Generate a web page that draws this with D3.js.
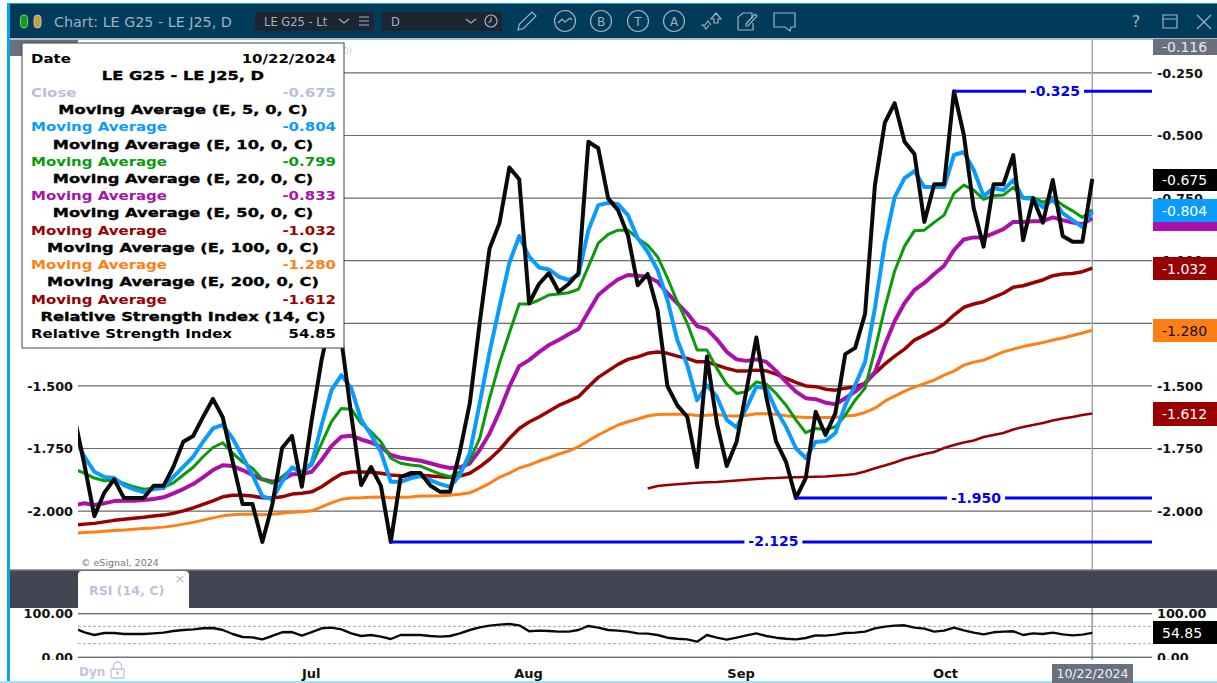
<!DOCTYPE html>
<html><head><meta charset="utf-8"><title>LE G25 - LE J25, D</title>
<script src="https://cdn.jsdelivr.net/npm/d3@7"></script>
<style>html,body{margin:0;padding:0;background:#fff;overflow:hidden}svg{display:block}text{font-family:"DejaVu Sans",sans-serif}</style>
</head><body><svg id="c" width="1217" height="683"></svg>
<script>
const close = [-1.63,-1.818,-2.022,-1.929,-1.875,-1.95,-1.95,-1.95,-1.901,-1.901,-1.825,-1.725,-1.702,-1.626,-1.554,-1.628,-1.805,-1.974,-1.974,-2.125,-1.978,-1.75,-1.702,-1.905,-1.638,-1.398,-1.218,-1.318,-1.618,-1.898,-1.826,-1.901,-2.125,-1.866,-1.85,-1.85,-1.9,-1.925,-1.925,-1.763,-1.571,-1.25,-0.953,-0.852,-0.63,-0.677,-1.172,-1.095,-1.052,-1.126,-1.095,-1.052,-0.527,-0.553,-0.753,-0.8,-0.9,-1.1,-1.055,-1.2,-1.503,-1.58,-1.625,-1.826,-1.385,-1.65,-1.822,-1.725,-1.519,-1.309,-1.545,-1.725,-1.805,-1.95,-1.87,-1.605,-1.698,-1.611,-1.375,-1.35,-1.215,-0.7,-0.451,-0.373,-0.527,-0.576,-0.847,-0.697,-0.697,-0.325,-0.5,-0.793,-0.946,-0.697,-0.697,-0.58,-0.92,-0.753,-0.85,-0.68,-0.903,-0.926,-0.926,-0.675];
const ema5 = [-1.71,-1.785,-1.845,-1.866,-1.87,-1.898,-1.915,-1.926,-1.914,-1.91,-1.865,-1.825,-1.785,-1.725,-1.672,-1.658,-1.712,-1.785,-1.858,-1.942,-1.955,-1.885,-1.827,-1.85,-1.81,-1.658,-1.519,-1.459,-1.511,-1.638,-1.698,-1.765,-1.885,-1.885,-1.871,-1.862,-1.878,-1.894,-1.905,-1.858,-1.77,-1.572,-1.367,-1.186,-1.011,-0.904,-0.986,-1.029,-1.037,-1.066,-1.079,-1.059,-0.88,-0.78,-0.771,-0.776,-0.82,-0.913,-0.966,-1.039,-1.159,-1.319,-1.419,-1.559,-1.499,-1.545,-1.638,-1.668,-1.59,-1.505,-1.511,-1.599,-1.665,-1.751,-1.79,-1.726,-1.722,-1.69,-1.579,-1.499,-1.407,-1.191,-0.932,-0.748,-0.672,-0.644,-0.708,-0.708,-0.708,-0.58,-0.568,-0.64,-0.744,-0.712,-0.72,-0.68,-0.752,-0.756,-0.788,-0.756,-0.812,-0.84,-0.868,-0.804];
const ema10 = [-1.835,-1.85,-1.87,-1.881,-1.878,-1.891,-1.905,-1.915,-1.911,-1.907,-1.889,-1.858,-1.827,-1.785,-1.748,-1.729,-1.771,-1.805,-1.831,-1.875,-1.891,-1.865,-1.831,-1.845,-1.818,-1.732,-1.645,-1.592,-1.595,-1.652,-1.685,-1.725,-1.791,-1.811,-1.818,-1.822,-1.838,-1.854,-1.865,-1.845,-1.798,-1.712,-1.551,-1.411,-1.291,-1.175,-1.175,-1.159,-1.139,-1.135,-1.13,-1.116,-1.026,-0.932,-0.897,-0.88,-0.88,-0.913,-0.94,-0.986,-1.071,-1.166,-1.251,-1.359,-1.359,-1.432,-1.495,-1.532,-1.525,-1.486,-1.495,-1.532,-1.579,-1.638,-1.689,-1.672,-1.676,-1.665,-1.619,-1.559,-1.511,-1.359,-1.191,-1.043,-0.944,-0.882,-0.88,-0.849,-0.82,-0.733,-0.7,-0.72,-0.757,-0.743,-0.74,-0.709,-0.751,-0.749,-0.769,-0.749,-0.78,-0.803,-0.829,-0.799];
const ema20 = [-1.978,-1.971,-1.978,-1.971,-1.962,-1.961,-1.961,-1.958,-1.954,-1.947,-1.931,-1.914,-1.894,-1.867,-1.838,-1.819,-1.822,-1.838,-1.858,-1.875,-1.885,-1.878,-1.855,-1.854,-1.845,-1.798,-1.742,-1.705,-1.701,-1.716,-1.728,-1.745,-1.778,-1.789,-1.795,-1.801,-1.811,-1.822,-1.83,-1.827,-1.811,-1.758,-1.692,-1.605,-1.505,-1.423,-1.399,-1.367,-1.339,-1.319,-1.296,-1.275,-1.206,-1.139,-1.106,-1.077,-1.059,-1.062,-1.066,-1.086,-1.132,-1.172,-1.212,-1.263,-1.275,-1.316,-1.366,-1.396,-1.402,-1.396,-1.406,-1.442,-1.486,-1.525,-1.551,-1.555,-1.569,-1.575,-1.551,-1.525,-1.491,-1.447,-1.339,-1.243,-1.171,-1.119,-1.091,-1.055,-1.022,-0.96,-0.917,-0.909,-0.909,-0.893,-0.876,-0.847,-0.847,-0.844,-0.844,-0.829,-0.84,-0.85,-0.856,-0.833];
const ema50 = [-2.058,-2.054,-2.051,-2.045,-2.039,-2.035,-2.031,-2.027,-2.022,-2.018,-2.011,-2.001,-1.989,-1.975,-1.961,-1.945,-1.939,-1.939,-1.942,-1.949,-1.95,-1.945,-1.934,-1.931,-1.925,-1.905,-1.878,-1.854,-1.846,-1.846,-1.847,-1.851,-1.858,-1.861,-1.861,-1.859,-1.862,-1.865,-1.867,-1.862,-1.851,-1.825,-1.795,-1.758,-1.712,-1.672,-1.646,-1.626,-1.603,-1.58,-1.563,-1.545,-1.505,-1.468,-1.442,-1.416,-1.396,-1.386,-1.372,-1.367,-1.372,-1.383,-1.392,-1.406,-1.406,-1.419,-1.432,-1.442,-1.442,-1.439,-1.442,-1.455,-1.472,-1.488,-1.502,-1.505,-1.515,-1.519,-1.511,-1.505,-1.492,-1.451,-1.415,-1.383,-1.355,-1.319,-1.299,-1.279,-1.255,-1.219,-1.188,-1.175,-1.166,-1.148,-1.132,-1.108,-1.102,-1.09,-1.079,-1.062,-1.055,-1.053,-1.046,-1.032];
const ema100 = [-2.091,-2.087,-2.085,-2.082,-2.079,-2.077,-2.074,-2.071,-2.069,-2.066,-2.061,-2.054,-2.047,-2.038,-2.029,-2.021,-2.017,-2.015,-2.015,-2.017,-2.015,-2.011,-2.007,-2.005,-2.001,-1.985,-1.969,-1.955,-1.95,-1.949,-1.947,-1.946,-1.949,-1.947,-1.946,-1.942,-1.942,-1.941,-1.939,-1.935,-1.929,-1.911,-1.891,-1.867,-1.85,-1.83,-1.818,-1.802,-1.789,-1.774,-1.762,-1.745,-1.721,-1.698,-1.678,-1.658,-1.645,-1.634,-1.622,-1.616,-1.615,-1.615,-1.615,-1.62,-1.619,-1.616,-1.621,-1.622,-1.619,-1.613,-1.613,-1.615,-1.621,-1.625,-1.628,-1.628,-1.628,-1.628,-1.622,-1.619,-1.608,-1.591,-1.563,-1.543,-1.523,-1.507,-1.493,-1.479,-1.459,-1.443,-1.419,-1.407,-1.399,-1.383,-1.366,-1.355,-1.345,-1.337,-1.329,-1.319,-1.311,-1.301,-1.291,-1.28];
const ema200Start = 58;
const ema200 = [-1.912,-1.902,-1.898,-1.895,-1.892,-1.889,-1.887,-1.886,-1.883,-1.88,-1.877,-1.874,-1.871,-1.87,-1.868,-1.867,-1.866,-1.865,-1.864,-1.861,-1.858,-1.854,-1.844,-1.831,-1.82,-1.808,-1.794,-1.784,-1.774,-1.766,-1.75,-1.738,-1.728,-1.72,-1.706,-1.698,-1.69,-1.676,-1.666,-1.658,-1.65,-1.64,-1.632,-1.626,-1.618,-1.612];
const rsi = [65.4,56.2,50,54.6,54.6,52.3,52.3,52.3,53.8,55.4,59.2,61.5,63,65.4,66.2,61.5,52.3,45.4,44.6,40,47.7,56.2,56.9,48.5,56.9,65.4,66.9,63,53.8,47.7,50,46.2,40.8,50,50,50,47.7,46.2,47.7,53.8,61.5,67.7,71.5,73.8,75.4,72.3,58.5,60,59.2,57.7,57.7,61.5,70.8,66.9,61.5,60,57.7,53.8,53.1,50,43.8,41.5,40,34.6,50,43.8,39.2,43.8,49.2,53.8,47.7,43.8,41.5,40,43.1,49.2,48.5,50.8,54.6,55.4,57.7,65.4,69.2,71.5,72.3,66.9,64.6,57.7,60,66.9,60.8,55.4,51.5,56.2,57.7,58.5,50,53.8,52.3,55.4,51.5,49.2,50.8,54.85];
const priceTicks = [-0.25,-0.5,-0.75,-1,-1.25,-1.5,-1.75,-2];
const leftPriceTicks = [-1.5,-1.75,-2];
const rsiTicks = [0,100];
const rsiBands = [70,30];
const monthNames = ["Jul","Aug","Sep","Oct"];
const monthBars = [23.9,45.9,67.4,88.1];
const levelValues = [-2.125,-1.95,-0.325];
const levelStartBars = [32,73,89];
const legendRows = [
 ["Date","10/22/2024","#000"],
 ["LE G25 - LE J25, D",null,"#000"],
 ["Close","-0.675","#b9bfd6"],
 ["Moving Average (E, 5, 0, C)",null,"#000"],
 ["Moving Average","-0.804","#0a9bff"],
 ["Moving Average (E, 10, 0, C)",null,"#000"],
 ["Moving Average","-0.799","#0a9a0a"],
 ["Moving Average (E, 20, 0, C)",null,"#000"],
 ["Moving Average","-0.833","#ab10ab"],
 ["Moving Average (E, 50, 0, C)",null,"#000"],
 ["Moving Average","-1.032","#990000"],
 ["Moving Average (E, 100, 0, C)",null,"#000"],
 ["Moving Average","-1.280","#ff7f14"],
 ["Moving Average (E, 200, 0, C)",null,"#000"],
 ["Moving Average","-1.612","#990000"],
 ["Relative Strength Index (14, C)",null,"#000"],
 ["Relative Strength Index","54.85","#000"]
];

const fmt3 = d => d.toFixed(3), fmt2 = d => d.toFixed(2);
const svg = d3.select("#c");
const x = d3.scaleLinear().domain([0,103]).range([74.6,1092.3]);
const y = d3.scaleLinear().domain([-0.25,-2]).range([72.4,510.6]);
const yr = d3.scaleLinear().domain([100,0]).range([613.3,656.7]);
const L = 78, R = 1152;
const defs = svg.append("defs");
defs.append("clipPath").attr("id","plot").append("rect").attr("x",L).attr("y",39).attr("width",1018).attr("height",531);
defs.append("clipPath").attr("id","plotR").append("rect").attr("x",L).attr("y",608).attr("width",1018).attr("height",52);

// window frame
svg.append("rect").attr("x",7).attr("y",3).attr("width",1210).attr("height",678).attr("fill","#0aa5e8");
svg.append("rect").attr("x",10).attr("y",39).attr("width",1207).attr("height",642).attr("fill","#fff");
svg.append("rect").attr("x",10).attr("y",4).attr("width",1207).attr("height",35).attr("fill","#003c5a");
svg.append("rect").attr("x",10).attr("y",38).attr("width",1207).attr("height",2).attr("fill","#b8bcc2");
svg.append("rect").attr("x",10).attr("y",40).attr("width",68).attr("height",16).attr("fill","#6b7080");
svg.append("rect").attr("x",0).attr("y",681).attr("width",1217).attr("height",2).attr("fill","#a5e2f8");

const styleAxis = g => {
 g.select(".domain").remove();
 g.selectAll("text").attr("font-size",12.8).attr("font-weight","bold").attr("fill","#111").attr("font-family","DejaVu Sans").attr("dy","0.36em");
};

// price grid + axes
const gridG = svg.append("g").attr("transform",`translate(${L},0)`)
 .call(d3.axisRight(y).tickValues(priceTicks).tickSize(R-L).tickPadding(5).tickFormat(fmt3));
styleAxis(gridG);
gridG.selectAll("line").attr("stroke","#6a6a6a").attr("stroke-width",1.2);
const leftG = svg.append("g").attr("transform",`translate(${L},0)`)
 .call(d3.axisLeft(y).tickValues(leftPriceTicks).tickSize(0).tickPadding(5).tickFormat(fmt3));
styleAxis(leftG);

// crosshair
svg.append("line").attr("x1",x(103)).attr("x2",x(103)).attr("y1",39).attr("y2",660).attr("stroke","#a3a6ad").attr("stroke-width",1.5);

// lines
const plot = svg.append("g").attr("clip-path","url(#plot)");
const draw = (vals,col,w,offs=0)=>plot.append("path")
 .attr("d",d3.line().x((d,i)=>x(i+offs)).y(d=>y(d))(vals))
 .attr("fill","none").attr("stroke",col).attr("stroke-width",w).attr("stroke-linejoin","round");
draw(ema200,"#990000",2.6,ema200Start);
draw(ema100,"#ff7f14",3);
draw(ema50,"#990000",3.5);
draw(ema20,"#ab10ab",4);
draw(ema10,"#0a9a0a",3);
draw(ema5,"#0a9bff",4);
draw(close,"#0a0a0a",4);

// support / resistance levels
levelValues.forEach((v,i)=>{
 const x0 = x(levelStartBars[i]);
 svg.append("line").attr("x1",x0).attr("x2",R).attr("y1",y(v)).attr("y2",y(v)).attr("stroke","#0000f5").attr("stroke-width",3);
 const cx = (x0+R)/2 + 2;
 svg.append("rect").attr("x",cx-29).attr("y",y(v)-8).attr("width",58).attr("height",16).attr("fill","#fff");
 svg.append("text").attr("x",cx).attr("y",y(v)+4.5).attr("text-anchor","middle").attr("font-size",14).attr("font-weight","bold").attr("fill","#0000f5").text(fmt3(v));
});

svg.append("text").attr("x",81).attr("y",566).attr("font-size",9.5).attr("fill","#777").attr("font-family","Liberation Sans").text("© eSignal, 2024");

// tags
const tag = (y0,h,fill,txt,tc)=>{
 svg.append("rect").attr("x",1153).attr("y",y0).attr("width",64).attr("height",h).attr("fill",fill);
 if(txt) svg.append("text").attr("x",1162).attr("y",y0+h/2+5).attr("font-size",14).attr("fill",tc||"#fff").text(txt);
};
tag(39,16,"#6b7080","-0.116","#e6e8ee");
tag(169,22,"#000","-0.675");
tag(207,9,"#0a9a0a");
tag(208,23,"#ab10ab");
tag(199,23,"#0a9bff","-0.804");
tag(257,23,"#990000","-1.032");
tag(319,23,"#ff7f14","-1.280","#111");
tag(402,24,"#990000","-1.612");

// band + RSI tab
svg.append("rect").attr("x",10).attr("y",570).attr("width",1207).attr("height",38).attr("fill","#414552");
svg.append("rect").attr("x",10).attr("y",569).attr("width",1207).attr("height",1.5).attr("fill","#9a9ca5");
svg.append("line").attr("x1",x(103)).attr("x2",x(103)).attr("y1",608).attr("y2",660).attr("stroke","#a3a6ad").attr("stroke-width",1.5);
svg.append("path").attr("d","M78,608V575a4,4 0 0 1 4,-4H185a4,4 0 0 1 4,4V608Z").attr("fill","#fff");
svg.append("text").attr("x",89).attr("y",595).attr("font-size",12.6).attr("fill","#bcc2da").attr("font-family","Noto Sans").attr("font-weight",600).text("RSI (14, C)");
svg.append("text").attr("x",180).attr("y",583).attr("text-anchor","middle").attr("font-size",13).attr("font-weight","bold").attr("fill","#c3c8dc").text("×");

// RSI panel
const rsiGrid = svg.append("g").attr("transform",`translate(${L},0)`)
 .call(d3.axisRight(yr).tickValues(rsiTicks).tickSize(R-L).tickPadding(5).tickFormat(fmt2));
styleAxis(rsiGrid);
rsiGrid.selectAll("line").attr("stroke","#333").attr("stroke-width",1);
const rsiLeft = svg.append("g").attr("transform",`translate(${L},0)`)
 .call(d3.axisLeft(yr).tickValues(rsiTicks).tickSize(0).tickPadding(5).tickFormat(fmt2));
styleAxis(rsiLeft);
rsiBands.forEach(b=>svg.append("line").attr("x1",L).attr("x2",R).attr("y1",yr(b)).attr("y2",yr(b)).attr("stroke","#a8a8a8").attr("stroke-dasharray","3 2"));
svg.append("path").attr("clip-path","url(#plotR)").attr("d",d3.line().x((d,i)=>x(i)).y(d=>yr(d))(rsi)).attr("fill","none").attr("stroke","#0a0a0a").attr("stroke-width",2.4).attr("stroke-linejoin","round");
svg.append("rect").attr("x",10).attr("y",660).attr("width",1207).attr("height",21).attr("fill","#fff");
tag(621,23,"#000","54.85");

// time axis
const months = d3.axisBottom(x).tickValues(monthBars).tickSize(0).tickPadding(0).tickFormat((d,i)=>monthNames[i]);
const tG = svg.append("g").attr("transform","translate(0,669)").call(months);
tG.select(".domain").remove();
tG.selectAll("text").attr("font-size",13).attr("font-weight","bold").attr("fill","#111").attr("font-family","DejaVu Sans");
svg.append("rect").attr("x",1052).attr("y",664).attr("width",81).attr("height",19).attr("fill","#6b7080");
svg.append("text").attr("x",1092.5).attr("y",678).attr("text-anchor","middle").attr("font-size",12.5).attr("fill","#eef0f4").text("10/22/2024");
svg.append("text").attr("x",79).attr("y",676).attr("font-size",12).attr("font-weight",600).attr("fill","#c0c6dc").attr("font-family","Noto Sans").text("Dyn");
const lock = svg.append("g").attr("fill","none").attr("stroke","#c0c6dc").attr("stroke-width",1.3);
lock.append("rect").attr("x",111).attr("y",669).attr("width",13).attr("height",9).attr("rx",1);
lock.append("path").attr("d","M113.5,669v-3a4,4 0 0 1 8,0v3");
lock.append("circle").attr("cx",117.5).attr("cy",673).attr("r",1).attr("fill","#c0c6dc");

// legend box
svg.append("text").attr("x",352).attr("y",54).attr("text-anchor","end").attr("font-size",9).attr("fill","#c8ccd8").text("0)");
svg.append("rect").attr("x",22).attr("y",43).attr("width",322).attr("height",305).attr("fill","#fff").attr("stroke","#444").attr("stroke-width",1);
const stretch = (t,k)=>{ const n=t.node(); t.attr("textLength",n.getComputedTextLength()*k).attr("lengthAdjust","spacingAndGlyphs"); return t; };
legendRows.forEach((r,i)=>{
 const yy = 62.5 + i*17.22;
 const t = svg.append("text").attr("y",yy).attr("font-size",12.8).attr("font-weight","bold").attr("fill",r[2]).text(r[0]);
 if(r[1]===null){
  t.attr("x",183).attr("text-anchor","middle").attr("stroke","#000").attr("stroke-width",0.35);
  stretch(t,1.27);
 } else {
  t.attr("x",31);
  stretch(t,1.17);
  const v = svg.append("text").attr("x",336).attr("y",yy).attr("text-anchor","end").attr("font-size",12.8).attr("font-weight","bold").attr("fill",r[2]).text(r[1]);
  stretch(v,1.17);
 }
});

// title bar
const ui="#9fb2c0";
svg.append("rect").attr("x",20.5).attr("y",15).attr("width",7).attr("height",13).attr("rx",3.5).attr("fill","#1a9a1a").attr("stroke","#7fd07f");
svg.append("rect").attr("x",34).attr("y",15).attr("width",7).attr("height",13).attr("rx",3.5).attr("fill","#c8a030").attr("stroke","#b8c0c8");
svg.append("text").attr("x",54).attr("y",27).attr("font-size",14.3).attr("fill",ui).attr("font-family","Open Sans").text("Chart: LE G25 - LE J25, D");
svg.append("rect").attr("x",255).attr("y",12).attr("width",119).attr("height",19).attr("fill","#1c2530");
svg.append("text").attr("x",264).attr("y",26).attr("font-size",11.5).attr("fill",ui).attr("font-family","Open Sans").text("LE G25 - Lt");
svg.append("rect").attr("x",382).attr("y",12).attr("width",120).attr("height",19).attr("fill","#1c2530");
svg.append("text").attr("x",391).attr("y",26).attr("font-size",11.5).attr("fill",ui).attr("font-family","Open Sans").text("D");
const ic = svg.append("g").attr("fill","none").attr("stroke",ui).attr("stroke-width",1.2);
ic.append("path").attr("d","M339,19l5,4l5,-4");
ic.append("path").attr("d","M359,17h10M359,21h10M359,25h10");
ic.append("path").attr("d","M466,19l5,4l5,-4");
ic.append("circle").attr("cx",491).attr("cy",21).attr("r",6);
ic.append("path").attr("d","M491,17.5v3.5l-2.5,1.5");
ic.append("path").attr("d","M518,30l1.5,-6L532,12l4,4L523.5,28.5Z");
ic.append("circle").attr("cx",565).attr("cy",21).attr("r",10.5);
ic.append("path").attr("d","M558,23l4,-4l3,3l5,-4l2,2");
[["B",601],["T",638],["A",674]].forEach(b=>{
 ic.append("circle").attr("cx",b[1]).attr("cy",21).attr("r",10.5);
 svg.append("text").attr("x",b[1]).attr("y",25.5).attr("text-anchor","middle").attr("font-size",12).attr("fill",ui).attr("font-family","Open Sans").text(b[0]);
});
ic.append("path").attr("d","M701,25h4l3,-4l3,4v0M703,25l3,4l3,-4");
ic.append("path").attr("d","M711,19l5,-6l5,6h-3v4h-4v-4Z");
ic.append("path").attr("d","M738,30V17l5,-4h9v6M738,30h15V23M746,24l9,-10l2,2l-9,10h-2Z");
ic.append("path").attr("d","M774,13h21v14h-4l-1,4l-5,-4h-11Z");
svg.append("text").attr("x",1136).attr("y",27).attr("text-anchor","middle").attr("font-size",16).attr("fill",ui).attr("font-family","Open Sans").text("?");
ic.append("path").attr("d","M1163,15h14v13h-14ZM1163,19h14");
ic.append("path").attr("d","M1197,15l14,14M1211,15l-14,14");
</script></body></html>
